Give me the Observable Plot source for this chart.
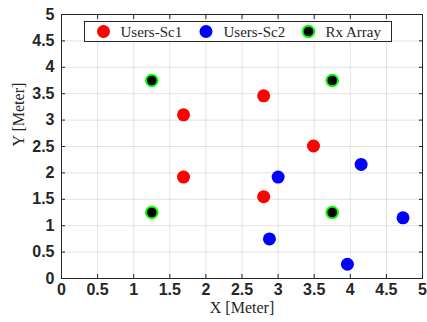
<!DOCTYPE html>
<html>
<head>
<meta charset="utf-8">
<script src="https://cdn.jsdelivr.net/npm/d3@7"></script>
<script src="https://cdn.jsdelivr.net/npm/@observablehq/plot@0.6"></script>
<style>
  html, body { margin: 0; padding: 0; background: #fff; }
  svg { display: block; }
</style>
</head>
<body>
<div id="chart"></div>
<script>
const sc1X = [1.69, 2.80, 3.49, 1.69, 2.80];
const sc1Y = [3.10, 3.46, 2.51, 1.92, 1.55];
const sc2X = [3.00, 4.15, 4.73, 2.88, 3.96];
const sc2Y = [1.92, 2.16, 1.15, 0.75, 0.27];
const rxX = [1.25, 3.75, 1.25, 3.75];
const rxY = [3.75, 3.75, 1.25, 1.25];
const xTicks = [0, 0.5, 1, 1.5, 2, 2.5, 3, 3.5, 4, 4.5, 5];
const yTicks = [0, 0.5, 1, 1.5, 2, 2.5, 3, 3.5, 4, 4.5, 5];
const xTickLabels = ["0", "0.5", "1", "1.5", "2", "2.5", "3", "3.5", "4", "4.5", "5"];
const yTickLabels = ["0", "0.5", "1", "1.5", "2", "2.5", "3", "3.5", "4", "4.5", "5"];
const seriesNames = ["Users-Sc1", "Users-Sc2", "Rx Array"];
const xLabel = "X [Meter]";
const yLabel = "Y [Meter]";

const toPts = (xs, ys) => xs.map((x, i) => ({x, y: ys[i]}));
const sc1 = toPts(sc1X, sc1Y);
const sc2 = toPts(sc2X, sc2Y);
const rx = toPts(rxX, rxY);
const xFmt = d => xTickLabels[xTicks.indexOf(d)];
const yFmt = d => yTickLabels[yTicks.indexOf(d)];

const axisColor = "#262626";
const serif = "'Liberation Serif', 'DejaVu Serif', serif";

const chart = Plot.plot({
  width: 427,
  height: 322,
  marginLeft: 61,
  marginRight: 5,
  marginTop: 14,
  marginBottom: 44,
  style: {fontFamily: "'Liberation Sans', Arial, sans-serif", fontSize: "16px", fontWeight: "bold", color: axisColor, background: "#fff", overflow: "visible"},
  x: {domain: [0, 5]},
  y: {domain: [0, 5]},
  marks: [
    Plot.gridX(xTicks, {stroke: axisColor, strokeOpacity: 0.13}),
    Plot.gridY(yTicks, {stroke: axisColor, strokeOpacity: 0.13}),
    Plot.axisX(xTicks, {anchor: "bottom", tickSize: -4, tickPadding: 9, tickFormat: xFmt, label: null, stroke: axisColor, fill: axisColor}),
    Plot.axisY(yTicks, {anchor: "left", tickSize: -4, tickPadding: 11, tickFormat: yFmt, label: null, stroke: axisColor, fill: axisColor}),
    Plot.axisX(xTicks, {anchor: "top", tickSize: -4, tickFormat: () => "", label: null, stroke: axisColor}),
    Plot.axisY(yTicks, {anchor: "right", tickSize: -4, tickFormat: () => "", label: null, stroke: axisColor}),
    Plot.frame({stroke: axisColor, strokeWidth: 1}),
    Plot.dot(sc1, {x: "x", y: "y", r: 6.5, fill: "#ff0000", stroke: null}),
    Plot.dot(sc2, {x: "x", y: "y", r: 6.5, fill: "#0000ff", stroke: null}),
    Plot.dot(rx, {x: "x", y: "y", r: 5.8, fill: "#000000", stroke: "#00ff00", strokeWidth: 2}),
    Plot.text([xLabel], {frameAnchor: "bottom", dy: 34, text: d => d, fontFamily: serif, fontSize: 16, fontWeight: "normal", fill: axisColor}),
    Plot.text([yLabel], {frameAnchor: "left", dx: -43, rotate: -90, text: d => d, fontFamily: serif, fontSize: 16, fontWeight: "normal", fill: axisColor})
  ]
});

document.getElementById("chart").appendChild(chart);

// Legend box inside the axes (top)
const svg = d3.select(chart);
const lg = svg.append("g").attr("class", "legend").attr("text-anchor", "start");
lg.append("rect")
  .attr("x", 84.5).attr("y", 21.5).attr("width", 307).attr("height", 20)
  .attr("fill", "#fff").attr("stroke", axisColor).attr("stroke-width", 1);
const legendItems = [
  {name: seriesNames[0], cx: 103.5, tx: 120.5, fill: "#ff0000", stroke: "none", r: 6.5, sw: 0},
  {name: seriesNames[1], cx: 206, tx: 223.5, fill: "#0000ff", stroke: "none", r: 6.5, sw: 0},
  {name: seriesNames[2], cx: 308.5, tx: 325.5, fill: "#000000", stroke: "#00ff00", r: 5.8, sw: 2}
];
legendItems.forEach(it => {
  lg.append("circle").attr("cx", it.cx).attr("cy", 31.5).attr("r", it.r)
    .attr("fill", it.fill).attr("stroke", it.stroke).attr("stroke-width", it.sw);
  lg.append("text").attr("x", it.tx).attr("y", 31.5).attr("dy", "0.35em")
    .attr("text-anchor", "start")
    .attr("font-family", serif).attr("font-size", 15).attr("font-weight", "normal")
    .attr("fill", axisColor).text(it.name);
});
</script>
</body>
</html>
